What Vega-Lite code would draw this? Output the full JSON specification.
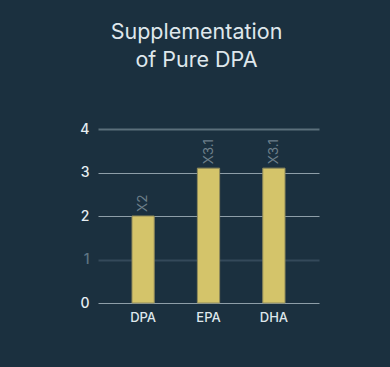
{
  "$schema": "https://vega.github.io/schema/vega-lite/v6.json",
  "autosize": "none",
  "width": 221,
  "height": 174,
  "padding": {"left": 98, "top": 129, "right": 71, "bottom": 64},
  "background": "#1b303f",
  "title": {
    "text": ["Supplementation", "of Pure DPA"],
    "fontSize": 21.5,
    "font": "Inter",
    "fontWeight": "normal",
    "color": "#dfe7ec",
    "anchor": "middle",
    "dx": -12,
    "lineHeight": 28,
    "offset": 51
  },
  "data": {
    "values": [
      {"acid": "DPA", "value": 2, "label": "X2"},
      {"acid": "EPA", "value": 3.1, "label": "X3.1"},
      {"acid": "DHA", "value": 3.1, "label": "X3.1"}
    ]
  },
  "encoding": {
    "x": {
      "field": "acid",
      "type": "nominal",
      "sort": null,
      "scale": {"paddingInner": 0.66, "paddingOuter": 0.52},
      "axis": {
        "title": null,
        "labelAngle": 0,
        "domain": false,
        "ticks": false,
        "labelFont": "Inter",
        "labelFontSize": 13,
        "labelFontWeight": 500,
        "labelColor": "#dfe7ec",
        "labelPadding": 8
      }
    },
    "y": {
      "field": "value",
      "type": "quantitative",
      "scale": {"domain": [0, 4]},
      "axis": {
        "title": null,
        "values": [0, 1, 2, 3, 4],
        "domain": false,
        "ticks": false,
        "labelFont": "Inter",
        "labelFontSize": 14,
        "labelFontWeight": 500,
        "labelPadding": 9,
        "labelColor": {"condition": {"test": "datum.value == 1", "value": "#5f7684"}, "value": "#e6eef2"},
        "gridColor": {"condition": [{"test": "datum.value == 4", "value": "#5b6f7b"}, {"test": "datum.value == 1", "value": "#34495a"}], "value": "#8e9ea8"},
        "gridWidth": {"condition": {"test": "datum.value == 4 || datum.value == 1", "value": 2}, "value": 1},
        "gridOpacity": 1
      }
    }
  },
  "layer": [
    {
      "mark": {"type": "bar", "color": "#d4c46a", "stroke": "#8f8a5a", "strokeWidth": 1}
    },
    {
      "mark": {"type": "text", "angle": 270, "align": "left", "baseline": "middle", "dx": 4, "font": "Inter", "fontSize": 13.5, "color": "#6d7f8a"},
      "encoding": {"text": {"field": "label"}}
    }
  ],
  "config": {"view": {"stroke": null}}
}
